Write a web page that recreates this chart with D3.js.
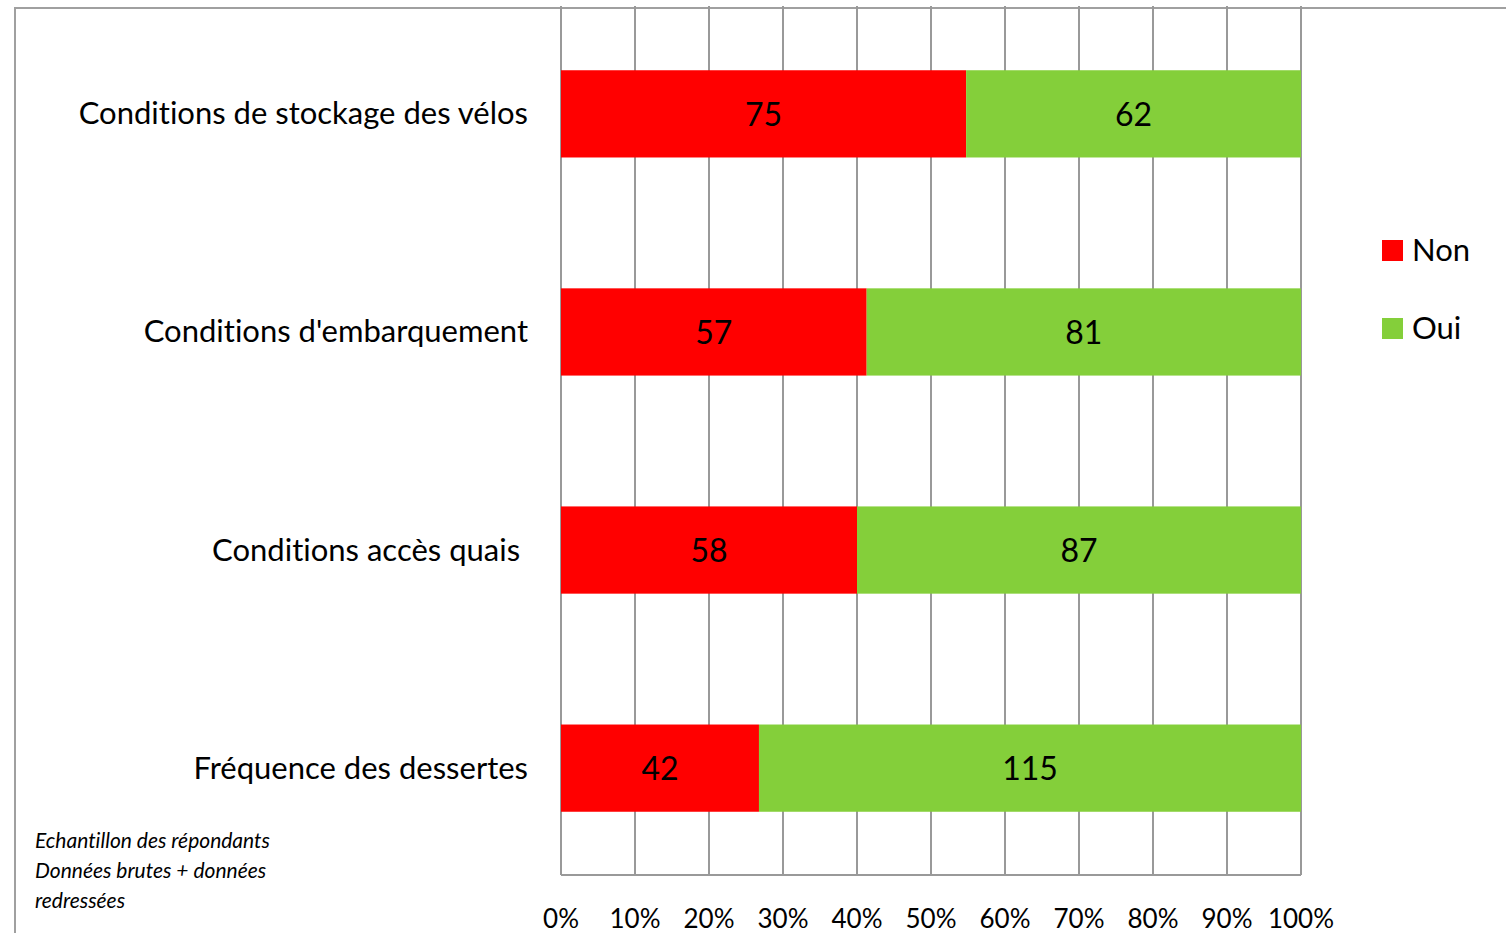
<!DOCTYPE html>
<html>
<head>
<meta charset="utf-8">
<script src="https://cdn.jsdelivr.net/npm/d3@7"></script>
<style>
  body { margin: 0; background: #fff; }
  text { font-family: Lato, "Open Sans", sans-serif; fill: #000; font-variant-ligatures: none; }
</style>
</head>
<body>
<div id="chart"></div>
<script>
// Data
var categories = ["Conditions de stockage des vélos", "Conditions d'embarquement", "Conditions accès quais ", "Fréquence des dessertes"];
var nonValues = [75, 57, 58, 42];
var ouiValues = [62, 81, 87, 115];
var seriesNames = ["Non", "Oui"];
var tickLabels = ["0%", "10%", "20%", "30%", "40%", "50%", "60%", "70%", "80%", "90%", "100%"];
var noteLines = ["Echantillon des répondants", "Données brutes + données", "redressées"];

var colors = {Non: "#ff0000", Oui: "#84cf3a"};

var W = 1506, H = 933;
var margin = {top: 7, left: 561, right: 205, bottom: 58};
var width = W - margin.left - margin.right,
    height = H - margin.top - margin.bottom;

var svg = d3.select("#chart").append("svg")
    .attr("width", W)
    .attr("height", H);

// outer frame (top and left edges visible)
svg.append("path")
    .attr("d", "M15," + H + "V8H" + W)
    .attr("fill", "none")
    .attr("stroke", "#a0a0a0")
    .attr("stroke-width", 2);

var g = svg.append("g")
    .attr("transform", "translate(" + margin.left + "," + margin.top + ")");

var rows = categories.map(function(c, i) {
    var total = nonValues[i] + ouiValues[i];
    return {cat: c, Non: nonValues[i], Oui: ouiValues[i], total: total};
});

var x = d3.scaleLinear().domain([0, 1]).range([0, width]);
var y = d3.scaleBand()
    .domain(categories)
    .range([0, height])
    .paddingInner(0.6)
    .paddingOuter(0.29);

// vertical gridlines
g.selectAll(".grid")
    .data(d3.range(0, 11))
    .enter().append("line")
    .attr("x1", d => x(d / 10))
    .attr("x2", d => x(d / 10))
    .attr("y1", -1)
    .attr("y2", height)
    .attr("stroke", "#999")
    .attr("stroke-width", 2);

// x axis line
g.append("line")
    .attr("x1", 0).attr("x2", width)
    .attr("y1", height).attr("y2", height)
    .attr("stroke", "#999")
    .attr("stroke-width", 2);

// stacked bars
var stack = d3.stack().keys(seriesNames)
    .value((d, k) => d[k] / d.total);
var series = stack(rows);

var layer = g.selectAll(".layer")
    .data(series)
    .enter().append("g")
    .attr("fill", d => colors[d.key]);

layer.selectAll("rect")
    .data(d => d)
    .enter().append("rect")
    .attr("x", d => x(d[0]))
    .attr("width", d => x(d[1]) - x(d[0]))
    .attr("y", d => y(d.data.cat))
    .attr("height", y.bandwidth());

// value labels
series.forEach(function(s) {
    g.selectAll(null)
        .data(s)
        .enter().append("text")
        .attr("x", d => (x(d[0]) + x(d[1])) / 2)
        .attr("y", d => y(d.data.cat) + y.bandwidth() / 2)
        .attr("dy", "0.38em")
        .attr("text-anchor", "middle")
        .style("font-size", "32px")
        .text(d => d.data[s.key]);
});

// category labels
g.selectAll(".cat")
    .data(categories)
    .enter().append("text")
    .attr("x", -33)
    .attr("y", d => y(d) + y.bandwidth() / 2)
    .attr("dy", "0.34em")
    .attr("text-anchor", "end")
    .style("font-size", "31px")
    .style("white-space", "pre")
    .text(d => d);

// tick labels
g.selectAll(".tick")
    .data(tickLabels)
    .enter().append("text")
    .attr("x", (d, i) => x(i / 10))
    .attr("y", height + 44)
    .attr("dy", "0.36em")
    .attr("text-anchor", "middle")
    .style("font-size", "26px")
    .text(d => d);

// legend
var legend = svg.append("g")
    .attr("transform", "translate(1382,240)");
seriesNames.forEach(function(k, i) {
    var lg = legend.append("g").attr("transform", "translate(0," + (i * 78) + ")");
    lg.append("rect")
        .attr("width", 21).attr("height", 21)
        .attr("fill", colors[k]);
    lg.append("text")
        .attr("x", 30).attr("y", 10)
        .attr("dy", "0.36em")
        .style("font-size", "31px")
        .text(k);
});

// note
svg.selectAll(".note")
    .data(noteLines)
    .enter().append("text")
    .attr("x", 35)
    .attr("y", (d, i) => 840 + i * 30)
    .attr("dy", "0.36em")
    .style("font-size", "21px")
    .style("font-style", "italic")
    .text(d => d);
</script>
</body>
</html>
